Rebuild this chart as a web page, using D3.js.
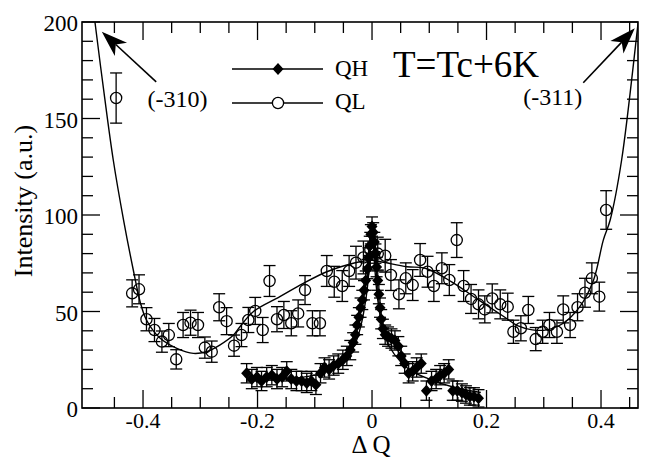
<!DOCTYPE html>
<html>
<head>
<meta charset="utf-8">
<script src="https://cdn.jsdelivr.net/npm/d3@7"></script>
<style>
  body { margin: 0; background: #fff; }
  svg text { font-family: "Liberation Serif", "DejaVu Serif", "Noto Serif", Times, serif; }
</style>
</head>
<body>
<div id="chart"></div>
<script>
// QL scan: [dQ, intensity, error]
var qlPoints = [
  [-0.447, 160.6, 13], [-0.419, 59.4, 7], [-0.407, 61.5, 7.5], [-0.394, 46, 6],
  [-0.380, 40.4, 6], [-0.367, 34.4, 5.5], [-0.355, 37.8, 6], [-0.342, 25.2, 5],
  [-0.330, 43, 6.5], [-0.317, 44.2, 6.5], [-0.304, 43, 6.5], [-0.292, 31.3, 5.5],
  [-0.280, 29.2, 5.5], [-0.267, 52.2, 7], [-0.254, 45, 7], [-0.241, 32.3, 5.5],
  [-0.228, 37.8, 6], [-0.216, 45.6, 6.5], [-0.204, 50.3, 7], [-0.191, 40.4, 6.5],
  [-0.179, 65.8, 8], [-0.166, 46, 6.5], [-0.154, 48.2, 7], [-0.141, 43.9, 6.5],
  [-0.129, 49, 7], [-0.117, 61.1, 7.5], [-0.104, 43.9, 6.5], [-0.091, 43.9, 6.5],
  [-0.079, 71, 8], [-0.066, 65.4, 8], [-0.052, 63.2, 8], [-0.040, 71, 8],
  [-0.028, 75.3, 8.5], [-0.015, 78, 8.5], [-0.003, 82, 9], [0.010, 80, 8.5],
  [0.023, 78.9, 8.5], [0.033, 68.9, 8], [0.047, 58.9, 7.5], [0.059, 67.2, 8],
  [0.071, 63.7, 8], [0.084, 76.7, 8.5], [0.097, 70.6, 8], [0.108, 63.2, 8],
  [0.122, 72.4, 8], [0.135, 66.3, 8], [0.148, 87, 9], [0.160, 63.2, 8],
  [0.173, 56.5, 7.5], [0.186, 53.7, 7.5], [0.197, 51.1, 7], [0.210, 56.8, 7.5],
  [0.224, 53.7, 7.5], [0.237, 52.5, 7], [0.247, 39.5, 6], [0.260, 41.3, 6.5],
  [0.273, 50.8, 7], [0.286, 35.7, 6], [0.298, 39.5, 6], [0.310, 43, 6.5],
  [0.323, 39.5, 6], [0.334, 51.1, 7], [0.346, 43, 6.5], [0.359, 52.2, 7],
  [0.372, 59.7, 7.5], [0.384, 67.2, 8], [0.397, 57.7, 7.5], [0.409, 102.6, 10]
]

// QH scan: [dQ, intensity, error]
var qhPoints = [
  [-0.219, 18, 5], [-0.210, 15, 5], [-0.201, 16, 5], [-0.193, 14, 5], [-0.184, 16, 5],
  [-0.175, 17, 5], [-0.166, 15, 5], [-0.157, 16, 5], [-0.149, 19, 5], [-0.141, 15, 5],
  [-0.132, 14, 5], [-0.123, 14, 5], [-0.114, 13, 5], [-0.106, 14, 5], [-0.098, 12, 5],
  [-0.090, 18, 5], [-0.083, 21, 5], [-0.075, 20, 5], [-0.067, 22, 5], [-0.059, 23, 5],
  [-0.051, 25, 5], [-0.044, 27, 5], [-0.038, 30, 5], [-0.033, 34, 5], [-0.029, 38, 5],
  [-0.026, 43, 5], [-0.023, 47, 5], [-0.020, 52, 5], [-0.017, 56, 5], [-0.014, 61, 5],
  [-0.011, 66, 5], [-0.008, 72, 5], [-0.006, 78, 5], [-0.004, 84, 5], [-0.002, 90, 5],
  [0.000, 94, 5], [0.002, 91, 5], [0.004, 86, 5], [0.006, 80, 5], [0.008, 73, 5],
  [0.010, 66, 5], [0.012, 59, 5], [0.014, 52, 5], [0.016, 46, 5], [0.019, 41, 5],
  [0.023, 38, 5], [0.028, 37, 5], [0.034, 36, 5], [0.040, 35, 5], [0.046, 32, 5],
  [0.051, 27, 5], [0.057, 23, 5], [0.064, 18, 5], [0.071, 19, 5], [0.078, 21, 5],
  [0.086, 23, 5], [0.095, 9, 5], [0.104, 14, 5], [0.112, 15, 5], [0.119, 17, 5],
  [0.126, 18, 5], [0.134, 20, 5], [0.141, 9, 5], [0.149, 9, 5], [0.157, 8, 4.5],
  [0.164, 7, 4.5], [0.171, 6, 4.5], [0.178, 6, 4.5], [0.186, 5, 4.5]
]

// fitted curves
var qlCurve = [
  [-0.490, 215], [-0.484, 200], [-0.468, 163], [-0.452, 128.5], [-0.434, 97.4],
  [-0.417, 71.5], [-0.405, 55], [-0.394, 45.6], [-0.370, 36.1], [-0.341, 30.9],
  [-0.312, 28.3], [-0.289, 29.2], [-0.266, 32.6], [-0.242, 37.8], [-0.231, 42],
  [-0.207, 50], [-0.161, 57.7], [-0.120, 64.6], [-0.079, 70.6], [-0.044, 74.1],
  [-0.021, 75.8], [0.000, 76.5], [0.020, 75.5], [0.061, 73.2], [0.093, 72.4],
  [0.139, 65.4], [0.186, 56], [0.232, 47], [0.255, 42.5], [0.280, 40.5],
  [0.305, 40.5], [0.334, 43.9], [0.363, 52.5], [0.387, 66.3], [0.404, 87],
  [0.416, 97.4], [0.436, 128.5], [0.465, 200], [0.470, 212]
]
var qhCurve = [
  [-0.220, 14], [-0.150, 15], [-0.100, 17], [-0.070, 20], [-0.050, 25],
  [-0.030, 33], [-0.020, 42], [-0.010, 58], [-0.005, 72], [0.000, 92],
  [0.005, 72], [0.010, 56], [0.020, 40], [0.030, 32], [0.050, 24],
  [0.070, 19], [0.100, 15], [0.140, 11], [0.190, 8]
]

var xMajor = [-0.4, -0.2, 0, 0.2, 0.4]
var xMinor = [-0.45, -0.35, -0.3, -0.25, -0.15, -0.1, -0.05, 0.05, 0.1, 0.15, 0.25, 0.3, 0.35, 0.45]
var yMajor = [0, 50, 100, 150, 200]
var yMinor = [10, 20, 30, 40, 60, 70, 80, 90, 110, 120, 130, 140, 160, 170, 180, 190]

// arrows [tail dQ, tail I, tip dQ, tip I], labels
var arrows = [[-0.377, 169, -0.472, 195], [0.369, 168.5, 0.459, 196.7]]
var peakLabels = [{text: "(-310)", q: -0.392, I: 156}, {text: "(-311)", q: 0.264, I: 157}]

var W = 654, H = 461
var svg = d3.select('#chart').append('svg')
  .attr('width', W)
  .attr('height', H)

var x = d3.scaleLinear().domain([-0.5066, 0.4646]).range([82, 638])
var y = d3.scaleLinear().domain([0, 200]).range([408, 22])

svg.append('clipPath').attr('id', 'plot')
  .append('rect')
  .attr('x', 82).attr('y', 22).attr('width', 556).attr('height', 386)

// curves
var line = d3.line()
  .x(function(d) { return x(d[0]) })
  .y(function(d) { return y(d[1]) })
  .curve(d3.curveCatmullRom)

svg.append('path')
  .attr('clip-path', 'url(#plot)')
  .attr('d', line(qlCurve))
  .attr('fill', 'none')
  .attr('stroke', '#000')
  .attr('stroke-width', 1.4)

svg.append('path')
  .attr('clip-path', 'url(#plot)')
  .attr('d', line(qhCurve))
  .attr('fill', 'none')
  .attr('stroke', '#000')
  .attr('stroke-width', 1.4)

// error bars
let drawErrors = function(data, cls) {
  var g = svg.selectAll('.' + cls)
    .data(data)
    .enter()
    .append('g')
    .attr('class', cls)
    .attr('stroke', '#000')
    .attr('stroke-width', 1.3)
  g.append('line')
    .attr('x1', d => x(d[0])).attr('x2', d => x(d[0]))
    .attr('y1', d => y(d[1] - d[2])).attr('y2', d => y(d[1] + d[2]))
  g.append('line')
    .attr('x1', d => x(d[0]) - 6).attr('x2', d => x(d[0]) + 6)
    .attr('y1', d => y(d[1] + d[2])).attr('y2', d => y(d[1] + d[2]))
  g.append('line')
    .attr('x1', d => x(d[0]) - 6).attr('x2', d => x(d[0]) + 6)
    .attr('y1', d => y(d[1] - d[2])).attr('y2', d => y(d[1] - d[2]))
}

drawErrors(qlPoints, 'qlerr')

svg.selectAll('.ql')
  .data(qlPoints)
  .enter()
  .append('circle')
  .attr('class', 'ql')
  .attr('cx', d => x(d[0]))
  .attr('cy', d => y(d[1]))
  .attr('r', 5.6)
  .attr('fill', 'none')
  .attr('stroke', '#000')
  .attr('stroke-width', 1.3)

drawErrors(qhPoints, 'qherr')

var diamond = 'M0,-6L5.5,0L0,6L-5.5,0Z'
svg.selectAll('.qh')
  .data(qhPoints)
  .enter()
  .append('path')
  .attr('class', 'qh')
  .attr('d', diamond)
  .attr('transform', d => 'translate(' + x(d[0]) + ',' + y(d[1]) + ')')
  .attr('fill', '#000')

// frame and ticks (inward, on all four sides)
svg.append('rect')
  .attr('x', 82).attr('y', 22).attr('width', 556).attr('height', 386)
  .attr('fill', 'none').attr('stroke', '#000').attr('stroke-width', 1.6)

var ticks = svg.append('g').attr('stroke', '#000').attr('stroke-width', 1.3)
let xTicks = function(vals, len) {
  vals.forEach(function(v) {
    ticks.append('line').attr('x1', x(v)).attr('x2', x(v)).attr('y1', 408).attr('y2', 408 - len)
    ticks.append('line').attr('x1', x(v)).attr('x2', x(v)).attr('y1', 22).attr('y2', 22 + len)
  })
}
let yTicks = function(vals, len) {
  vals.forEach(function(v) {
    ticks.append('line').attr('x1', 82).attr('x2', 82 + len).attr('y1', y(v)).attr('y2', y(v))
    ticks.append('line').attr('x1', 638).attr('x2', 638 - len).attr('y1', y(v)).attr('y2', y(v))
  })
}
xTicks(xMajor, 18)
xTicks(xMinor, 11)
yTicks(yMajor, 18)
yTicks(yMinor, 11)

svg.selectAll('.xlab')
  .data(xMajor)
  .enter()
  .append('text')
  .attr('class', 'xlab')
  .attr('x', d => x(d))
  .attr('y', 428)
  .attr('text-anchor', 'middle')
  .style('font-size', '22px')
  .text(d => d === 0 ? '0' : (d < 0 ? '-' : '') + Math.abs(d))

svg.selectAll('.ylab')
  .data(yMajor)
  .enter()
  .append('text')
  .attr('class', 'ylab')
  .attr('x', 78)
  .attr('y', d => y(d) + 9)
  .attr('text-anchor', 'end')
  .style('font-size', '23px')
  .text(d => d)

svg.append('text')
  .attr('x', 371).attr('y', 453)
  .attr('text-anchor', 'middle')
  .style('font-size', '25px')
  .text('\u0394 Q')

svg.append('text')
  .attr('transform', 'translate(32,201) rotate(-90)')
  .attr('text-anchor', 'middle')
  .style('font-size', '26px')
  .text('Intensity (a.u.)')

// legend
var legend = svg.append('g')
legend.append('line').attr('x1', 232).attr('x2', 323).attr('y1', 69).attr('y2', 69)
  .attr('stroke', '#000').attr('stroke-width', 1.3)
legend.append('path').attr('d', diamond).attr('transform', 'translate(278,69)')
legend.append('text').attr('x', 335).attr('y', 76).style('font-size', '23px').text('QH')
legend.append('line').attr('x1', 232).attr('x2', 323).attr('y1', 103).attr('y2', 103)
  .attr('stroke', '#000').attr('stroke-width', 1.3)
legend.append('circle').attr('cx', 278).attr('cy', 103).attr('r', 5.6)
  .attr('fill', '#fff').attr('stroke', '#000').attr('stroke-width', 1.3)
legend.append('text').attr('x', 335).attr('y', 109).style('font-size', '23px').text('QL')

svg.append('text')
  .attr('x', 393).attr('y', 77)
  .style('font-size', '37px')
  .text('T=Tc+6K')

// arrows to the Bragg peaks
arrows.forEach(function(a) {
  var x0 = x(a[0]), y0 = y(a[1]), x1 = x(a[2]), y1 = y(a[3])
  var ang = Math.atan2(y1 - y0, x1 - x0)
  var ux = Math.cos(ang), uy = Math.sin(ang)
  var L = 26, hw = 9, notch = 7
  var bx = x1 - ux * L, by = y1 - uy * L
  svg.append('line')
    .attr('x1', x0).attr('y1', y0)
    .attr('x2', bx + ux * notch).attr('y2', by + uy * notch)
    .attr('stroke', '#000').attr('stroke-width', 1.6)
  svg.append('path')
    .attr('d', 'M' + x1 + ',' + y1 +
      'L' + (bx - uy * hw) + ',' + (by + ux * hw) +
      'L' + (bx + ux * notch) + ',' + (by + uy * notch) +
      'L' + (bx + uy * hw) + ',' + (by - ux * hw) + 'Z')
    .attr('fill', '#000')
})

svg.selectAll('.peak')
  .data(peakLabels)
  .enter()
  .append('text')
  .attr('class', 'peak')
  .attr('x', d => x(d.q))
  .attr('y', d => y(d.I))
  .style('font-size', '24px')
  .text(d => d.text)
</script>
</body>
</html>
